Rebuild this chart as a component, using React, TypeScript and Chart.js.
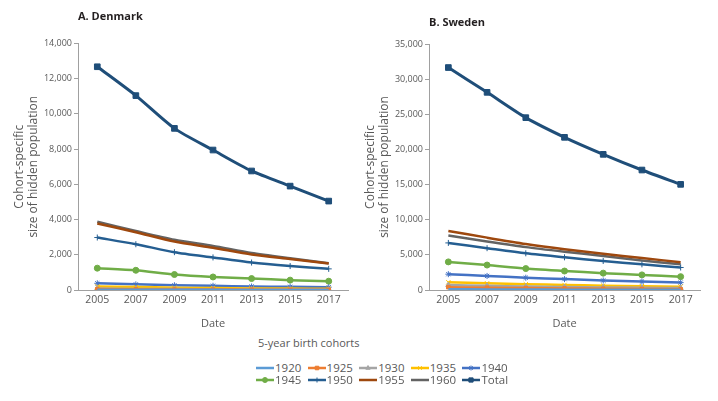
import React, { useEffect, useRef } from 'react';
import { Chart, registerables } from 'chart.js';
import { drawPoint } from 'chart.js/helpers';

Chart.register(...registerables);

const years = ['2005', '2007', '2009', '2011', '2013', '2015', '2017'];
const cohorts = ['1920', '1925', '1930', '1935', '1940', '1945', '1950', '1955', '1960', 'Total'];
const colors = ['#5B9BD5', '#ED7D31', '#A5A5A5', '#FFC000', '#4472C4', '#70AD47', '#255E91', '#9E480E', '#636363', '#1F4E79'];
const markers: (string | false)[] = [false, 'rect', 'triangle', 'crossRot', 'star', 'circle', 'cross', false, false, 'rect'];
const markerRadius = [0, 2.5, 3, 3, 3, 3, 3, 0, 0, 4];

// Denmark
const dk1920 = [20, 15, 10, 8, 6, 4, 3];
const dk1925 = [50, 40, 30, 25, 20, 15, 10];
const dk1930 = [80, 60, 50, 40, 30, 25, 20];
const dk1935 = [200, 170, 130, 110, 90, 80, 70];
const dk1940 = [380, 320, 270, 240, 200, 180, 160];
const dk1945 = [1240, 1120, 880, 740, 650, 560, 500];
const dk1950 = [2980, 2600, 2150, 1850, 1560, 1360, 1200];
const dk1955 = [3780, 3280, 2750, 2400, 2020, 1760, 1500];
const dk1960 = [3880, 3350, 2850, 2500, 2100, 1800, 1520];
const dkTotal = [12680, 11040, 9180, 7950, 6760, 5900, 5050];

// Sweden
const se1920 = [100, 80, 60, 50, 40, 30, 25];
const se1925 = [400, 330, 270, 220, 180, 150, 120];
const se1930 = [700, 600, 500, 430, 370, 320, 280];
const se1935 = [1100, 950, 820, 720, 620, 550, 480];
const se1940 = [2250, 2000, 1750, 1550, 1350, 1200, 1050];
const se1945 = [4000, 3550, 3050, 2700, 2400, 2150, 1900];
const se1950 = [6700, 5950, 5220, 4650, 4130, 3650, 3200];
const se1955 = [8400, 7450, 6550, 5800, 5150, 4550, 3950];
const se1960 = [7750, 6900, 6100, 5450, 4850, 4200, 3650];
const seTotal = [31650, 28120, 24520, 21720, 19300, 17070, 15030];

const dkSeries = [dk1920, dk1925, dk1930, dk1935, dk1940, dk1945, dk1950, dk1955, dk1960, dkTotal];
const seSeries = [se1920, se1925, se1930, se1935, se1940, se1945, se1950, se1955, se1960, seTotal];

const FONT = "'Open Sans', sans-serif";
const TEXT = '#595959';
const AXIS = '#a0a0a0';

type PanelProps = {
  left: number; width: number; height: number; title: string;
  titlePadTop: number; titlePadBottom: number; series: number[][];
  max: number; step: number; yWidth: number; padRight: number; yTitlePad: number;
};

function Panel(p: PanelProps) {
  const ref = useRef<HTMLCanvasElement>(null);
  useEffect(() => {
    const chart = new Chart(ref.current!, {
      type: 'line',
      data: {
        labels: years,
        datasets: cohorts.map((c, i) => ({
          label: c,
          data: p.series[i],
          borderColor: colors[i],
          backgroundColor: colors[i],
          borderWidth: i === 9 ? 3 : 2.5,
          pointStyle: (markers[i] || 'circle') as any,
          pointRadius: markerRadius[i],
          pointBorderWidth: 1,
          tension: 0.25,
        })),
      },
      options: {
        animation: false,
        responsive: false,
        devicePixelRatio: 1,
        layout: { padding: { left: 0, right: p.padRight, top: 0, bottom: 0 } },
        plugins: {
          legend: { display: false },
          tooltip: { enabled: false },
          title: {
            display: true,
            text: p.title,
            align: 'start',
            fullSize: false,
            color: '#231f20',
            font: { family: FONT, size: 11, weight: 'bold' },
            padding: { top: p.titlePadTop, bottom: p.titlePadBottom },
          },
        },
        scales: {
          x: {
            offset: true,
            grid: { display: false, drawTicks: false },
            border: { display: true, color: AXIS, width: 1 },
            ticks: { color: TEXT, font: { family: FONT, size: 10.5 }, padding: 4, maxRotation: 0 },
            title: { display: true, text: 'Date', color: TEXT, font: { family: FONT, size: 11 }, padding: 0 },
            afterFit: (s: any) => { s.height = 40; },
          },
          y: {
            min: 0,
            max: p.max,
            ticks: {
              stepSize: p.step,
              color: TEXT,
              padding: 2,
              font: { family: FONT, size: 9 },
              callback: (v: any) => Number(v).toLocaleString('en-US'),
            },
            grid: { drawOnChartArea: false, drawTicks: true, tickLength: 4, color: AXIS },
            border: { display: true, color: AXIS, width: 1 },
            title: {
              display: true,
              text: ['Cohort-specific', 'size of hidden population'],
              color: TEXT,
              font: { family: FONT, size: 12, lineHeight: 1.2 },
              padding: { top: p.yTitlePad, bottom: 0 },
            },
            afterFit: (s: any) => { s.width = p.yWidth; },
          },
        },
      },
    });
    return () => chart.destroy();
  }, []);
  return (
    <canvas
      ref={ref}
      width={p.width}
      height={p.height}
      style={{ position: 'absolute', left: p.left, top: 0, width: p.width, height: p.height }}
    />
  );
}

function LegendMark({ i }: { i: number }) {
  const ref = useRef<HTMLCanvasElement>(null);
  useEffect(() => {
    const ctx = ref.current!.getContext('2d')!;
    ctx.clearRect(0, 0, 18, 12);
    ctx.strokeStyle = colors[i];
    ctx.lineWidth = 2.5;
    ctx.beginPath();
    ctx.moveTo(0, 6);
    ctx.lineTo(18, 6);
    ctx.stroke();
    if (markers[i]) {
      ctx.fillStyle = colors[i];
      ctx.strokeStyle = colors[i];
      ctx.lineWidth = 1;
      drawPoint(ctx, { pointStyle: markers[i] as any, radius: i === 9 ? 3 : 2.5, rotation: 0, borderWidth: 1 } as any, 9, 6);
    }
  }, []);
  return <canvas ref={ref} width={18} height={12} style={{ width: 18, height: 12, marginRight: 1 }} />;
}

function Legend() {
  return (
    <div style={{ position: 'absolute', left: 256, top: 335, fontFamily: FONT, color: TEXT }}>
      <div style={{ fontSize: 11, lineHeight: '15px', marginLeft: 2 }}>5-year birth cohorts</div>
      <div style={{ position: 'relative', marginTop: 12 }}>
        {cohorts.map((c, i) => (
          <div
            key={c}
            style={{
              position: 'absolute',
              left: (i % 5) * 51.6,
              top: Math.floor(i / 5) * 12,
              display: 'flex',
              alignItems: 'center',
              fontSize: 11.5,
              lineHeight: '12px',
              whiteSpace: 'nowrap',
            }}
          >
            <LegendMark i={i} />
            <span>{c}</span>
          </div>
        ))}
      </div>
    </div>
  );
}

export default function App() {
  return (
    <div style={{ position: 'absolute', left: 0, top: 0, width: 718, height: 401, background: '#fff', overflow: 'hidden' }}>
      <Panel left={0} width={359} height={330} title="A. Denmark" titlePadTop={10.5} titlePadBottom={19.8}
        series={dkSeries} max={14000} step={2000} yWidth={78} padRight={11} yTitlePad={12} />
      <Panel left={359} width={359} height={330} title="B. Sweden" titlePadTop={16.5} titlePadBottom={14.3}
        series={seSeries} max={35000} step={5000} yWidth={70} padRight={18} yTitlePad={4} />
      <Legend />
    </div>
  );
}
